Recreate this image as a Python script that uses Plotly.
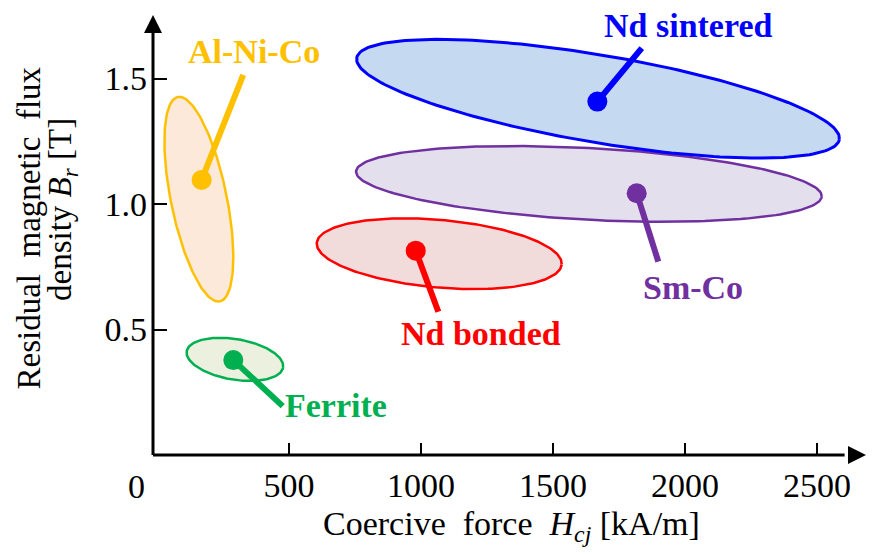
import numpy as np
import plotly.graph_objects as go

# ---------------- data ----------------
materials = ["Sm-Co", "Nd sintered", "Nd bonded", "Al-Ni-Co", "Ferrite"]
# representative point of each material (dot)
dot_hcj = [1817, 1668, 980, 169, 289]
dot_br = [1.043, 1.408, 0.814, 1.096, 0.378]
# extent of each material region (ellipse bounding ranges)
hcj_min = [754, 756, 605, 28, 112]
hcj_max = [2518, 2585, 1533, 289, 478]
br_min = [0.929, 1.183, 0.661, 0.611, 0.295]
br_max = [1.231, 1.656, 0.943, 1.427, 0.467]

x_ticks = [500, 1000, 1500, 2000, 2500]
x_tick_text = ["500", "1000", "1500", "2000", "2500"]
y_ticks = [0.5, 1.0, 1.5]
y_tick_text = ["0.5", "1.0", "1.5"]

# ---------------- style ----------------
line_colors = ["#7030A0", "#0000FF", "#FF0000", "#FFC000", "#00B050"]
fill_colors = ["#E4DFEC", "#C5D9F1", "#F2DCDB", "#FDE9D9", "#EBF1DE"]
edge_widths = [2.5, 3, 2.5, 2.5, 2.5]
tilt_deg = [3.07, 9.6, 5.05, 78.4, 9.57]          # screen tilt (clockwise)
leader_off = [(21.6, 68.4), (44.4, -53.4), (22.6, 61.0), (41.6, -105.0), (49.4, 46.0)]
label_off = [(56.3, 94.2), (90.7, -75.7), (64.8, 83.3), (52.8, -128.0), (102.7, 45.0)]

# page body has an 8px margin in the browser -> make the figure 8px smaller
BODY = 8
W_FIG, H_FIG = 880 - BODY, 554 - BODY
PW, PH = 713, 440
M_L, M_T = 153 - BODY, 15 - BODY
M_R = W_FIG - M_L - PW
M_B = H_FIG - M_T - PH
X_RANGE = [-15.2, -15.2 + PW / 0.264]
Y_RANGE = [0.0, PH / 251.0]
kx = PW / (X_RANGE[1] - X_RANGE[0])
ky = PH / (Y_RANGE[1] - Y_RANGE[0])

SERIF = "Liberation Serif"

fig = go.Figure()


def ellipse_pts(x0, x1, y0, y1, theta_deg, n=200):
    cx = ((x0 + x1) / 2 - X_RANGE[0]) * kx
    cy = ((y0 + y1) / 2 - Y_RANGE[0]) * ky
    W = (x1 - x0) / 2 * kx
    H = (y1 - y0) / 2 * ky
    th = np.radians(theta_deg)
    c2, s2 = np.cos(th) ** 2, np.sin(th) ** 2
    cos2 = np.cos(2 * th)
    a = np.sqrt((W**2 * c2 - H**2 * s2) / cos2)
    b = np.sqrt((H**2 * c2 - W**2 * s2) / cos2)
    phi = -th  # y-up coordinates
    t = np.linspace(0, 2 * np.pi, n)
    u, v = a * np.cos(t), b * np.sin(t)
    px = cx + u * np.cos(phi) - v * np.sin(phi)
    py = cy + u * np.sin(phi) + v * np.cos(phi)
    return X_RANGE[0] + px / kx, Y_RANGE[0] + py / ky


for i, name in enumerate(materials):
    ex, ey = ellipse_pts(hcj_min[i], hcj_max[i], br_min[i], br_max[i], tilt_deg[i])
    fig.add_trace(go.Scatter(x=ex, y=ey, mode="lines", fill="toself",
                             fillcolor=fill_colors[i],
                             line=dict(color=line_colors[i], width=edge_widths[i]),
                             hoverinfo="skip", showlegend=False))

for i, name in enumerate(materials):
    dx, dy = leader_off[i]
    xe = dot_hcj[i] + dx / kx
    ye = dot_br[i] - dy / ky
    fig.add_trace(go.Scatter(x=[dot_hcj[i], xe], y=[dot_br[i], ye], mode="lines",
                             line=dict(color=line_colors[i], width=6),
                             hoverinfo="skip", showlegend=False))
    fig.add_trace(go.Scatter(x=[dot_hcj[i]], y=[dot_br[i]], mode="markers",
                             marker=dict(color=line_colors[i], size=20, line=dict(width=0)),
                             name=name, showlegend=False))
    lx, ly = label_off[i]
    fig.add_annotation(x=dot_hcj[i], y=dot_br[i], xref="x", yref="y",
                       xshift=lx, yshift=-ly, text="<b>%s</b>" % name,
                       showarrow=False, xanchor="center", yanchor="middle",
                       font=dict(family=SERIF, size=34, color=line_colors[i]))


def px2paper(px, py):
    # px, py measured in screenshot pixels
    return (px - BODY - M_L) / PW, (M_T + PH - (py - BODY)) / PH


# axis lines with arrows
shapes = []
shapes.append(dict(type="line", xref="paper", yref="paper", x0=0, y0=0, x1=0, y1=0.97,
                   line=dict(color="black", width=3)))
shapes.append(dict(type="line", xref="paper", yref="paper", x0=0, y0=0, x1=0.97, y1=0,
                   line=dict(color="black", width=3)))
ax_ = 9 / PW
ay_ = 18 / PH
shapes.append(dict(type="path", xref="paper", yref="paper",
                   path="M %f %f L %f %f L %f %f Z" % (-ax_, 1 - ay_, 0, 1, ax_, 1 - ay_),
                   fillcolor="black", line=dict(width=0)))
bx_ = 18 / PW
by_ = 9 / PH
shapes.append(dict(type="path", xref="paper", yref="paper",
                   path="M %f %f L %f %f L %f %f Z" % (1 - bx_, by_, 1, 0, 1 - bx_, -by_),
                   fillcolor="black", line=dict(width=0)))

# origin label
ox, oy = px2paper(136.7, 486)
fig.add_annotation(x=ox, y=oy, xref="paper", yref="paper", text="0", showarrow=False,
                   xanchor="center", yanchor="middle",
                   font=dict(family=SERIF, size=34, color="black"))
# x title
tx, ty = px2paper(512, 526)
fig.add_annotation(x=tx, y=ty, xref="paper", yref="paper",
                   text="Coercive\u00a0 force\u00a0 <i>H<sub>cj</sub></i> [kA/m]",
                   showarrow=False, xanchor="center", yanchor="middle",
                   font=dict(family=SERIF, size=34, color="black"))
# y title (two lines)
y1x, y1y = px2paper(28, 228.5)
fig.add_annotation(x=y1x, y=y1y, xref="paper", yref="paper",
                   text="Residual\u00a0 magnetic\u00a0 flux", textangle=-90,
                   showarrow=False, xanchor="center", yanchor="middle",
                   font=dict(family=SERIF, size=33, color="black"))
y2x, y2y = px2paper(62, 210)
fig.add_annotation(x=y2x, y=y2y, xref="paper", yref="paper",
                   text="density <i>B<sub>r</sub></i> [T]", textangle=-90,
                   showarrow=False, xanchor="center", yanchor="middle",
                   font=dict(family=SERIF, size=33, color="black"))

fig.update_layout(
    template="none",
    width=W_FIG, height=H_FIG,
    margin=dict(l=M_L, r=M_R, t=M_T, b=M_B, pad=0),
    paper_bgcolor="white", plot_bgcolor="white",
    font=dict(family=SERIF, color="black"),
    shapes=shapes,
    xaxis=dict(range=X_RANGE, tickvals=x_ticks, ticktext=x_tick_text,
               ticks="inside", ticklen=12, tickwidth=2, tickcolor="black",
               showline=False, showgrid=False, zeroline=False, automargin=False,
               tickfont=dict(family=SERIF, size=34, color="black"),
               ticklabelstandoff=7, fixedrange=True),
    yaxis=dict(range=Y_RANGE, tickvals=y_ticks, ticktext=y_tick_text,
               ticks="inside", ticklen=14, tickwidth=2, tickcolor="black",
               showline=False, showgrid=False, zeroline=False, automargin=False,
               tickfont=dict(family=SERIF, size=34, color="black"),
               ticklabelstandoff=5, fixedrange=True),
)

fig.write_html("out.html")
